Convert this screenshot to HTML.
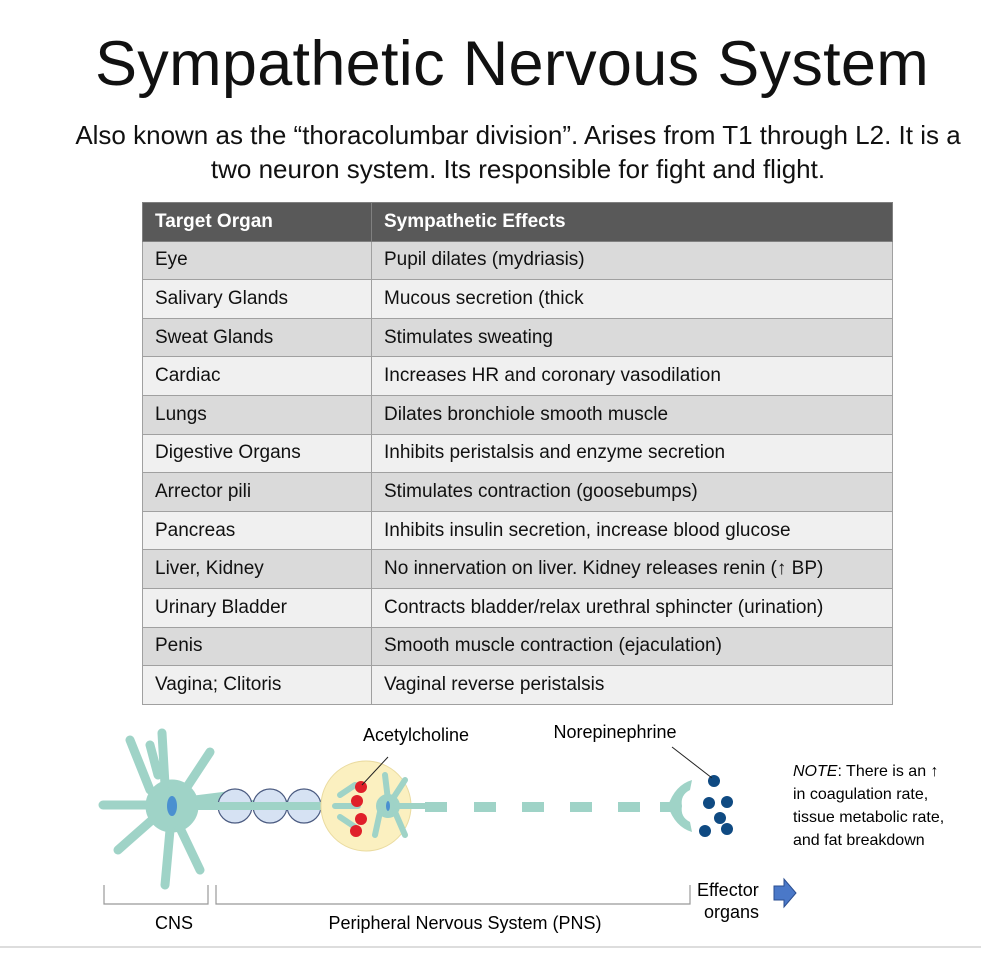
<!DOCTYPE html>
<html><head><meta charset="utf-8"><style>
body{margin:0;width:981px;height:954px;background:#fff;font-family:"Liberation Sans",sans-serif;position:relative;overflow:hidden;color:#111}
h1{position:absolute;top:24px;left:0;width:1024px;text-align:center;margin:0;font-weight:normal;font-size:63px;line-height:80px;letter-spacing:0.3px}
.sub{position:absolute;top:118px;left:0;width:1036px;text-align:center;font-size:26px;line-height:34px}
table{position:absolute;left:142px;top:202px;border-collapse:collapse;width:751px}
td{border:1.5px solid #a0a0a0;height:38.6px;padding:0 0 0 12px;font-size:19px;box-sizing:border-box}
tr.h td{background:#595959;color:#fff;font-weight:bold;border-color:#808080}
tr:nth-child(even) td{background:#dadada}
tr:nth-child(odd):not(.h) td{background:#f0f0f0}
svg{position:absolute;left:0;top:0}
</style></head><body>
<h1>Sympathetic Nervous System</h1>
<div class="sub">Also known as the “thoracolumbar division”. Arises from T1 through L2. It is a<br>two neuron system. Its responsible for fight and flight.</div>
<table>
<tr class="h"><td style="width:229px">Target Organ</td><td>Sympathetic Effects</td></tr>
<tr><td>Eye</td><td>Pupil dilates (mydriasis)</td></tr>
<tr><td>Salivary Glands</td><td>Mucous secretion (thick</td></tr>
<tr><td>Sweat Glands</td><td>Stimulates sweating</td></tr>
<tr><td>Cardiac</td><td>Increases HR and coronary vasodilation</td></tr>
<tr><td>Lungs</td><td>Dilates bronchiole smooth muscle</td></tr>
<tr><td>Digestive Organs</td><td>Inhibits peristalsis and enzyme secretion</td></tr>
<tr><td>Arrector pili</td><td>Stimulates contraction (goosebumps)</td></tr>
<tr><td>Pancreas</td><td>Inhibits insulin secretion, increase blood glucose</td></tr>
<tr><td>Liver, Kidney</td><td>No innervation on liver. Kidney releases renin (↑ BP)</td></tr>
<tr><td>Urinary Bladder</td><td>Contracts bladder/relax urethral sphincter (urination)</td></tr>
<tr><td>Penis</td><td>Smooth muscle contraction (ejaculation)</td></tr>
<tr><td>Vagina; Clitoris</td><td>Vaginal reverse peristalsis</td></tr>
</table>
<svg width="981" height="954" font-family="Liberation Sans, sans-serif">
<line x1="0" y1="947" x2="981" y2="947" stroke="#ddd" stroke-width="2"/>
<g fill="#9fd3c7" stroke="#9fd3c7" stroke-linecap="round">
<circle cx="172" cy="806" r="26"/>
<path d="M150 790 L130 740 M165 785 L162 733 M185 790 L210 752 M195 800 L235 795 M150 805 L103 805 M152 820 L118 850 M170 830 L165 885 M180 828 L200 870 M158 775 L150 745" stroke-width="9" fill="none"/>
<rect x="180" y="800" width="160" height="10" stroke="none"/>
</g>
<ellipse cx="172" cy="806" rx="5" ry="10" fill="#4a90d0"/>
<g fill="#d6e2f3" stroke="#4a5a80" stroke-width="1.2"><circle cx="235" cy="806" r="17"/><circle cx="270" cy="806" r="17"/><circle cx="304" cy="806" r="17"/></g>
<rect x="215" y="802" width="120" height="8" fill="#9fd3c7"/>
<circle cx="366" cy="806" r="45" fill="#fbf0c0" stroke="#eadba0"/>
<g fill="#9fd3c7" stroke="#9fd3c7" stroke-linecap="round" stroke-width="6">
<path d="M335 806 L358 806 M340 795 L355 785 M340 817 L355 827" fill="none"/>
<circle cx="388" cy="806" r="9"/>
<path d="M388 800 L385 775 M392 800 L405 780 M380 812 L375 835 M395 812 L405 835 M396 806 L430 806" fill="none"/>
</g>
<ellipse cx="388" cy="806" rx="2" ry="5" fill="#4a90d0"/>
<g fill="#e0202a"><circle cx="361" cy="787" r="6"/><circle cx="357" cy="801" r="6"/><circle cx="361" cy="819" r="6"/><circle cx="356" cy="831" r="6"/></g>
<line x1="362" y1="785" x2="388" y2="757" stroke="#222" stroke-width="1"/>
<g fill="#9fd3c7"><rect x="425" y="802" width="22" height="10"/><rect x="474" y="802" width="22" height="10"/><rect x="522" y="802" width="22" height="10"/><rect x="570" y="802" width="22" height="10"/><rect x="618" y="802" width="22" height="10"/></g>
<path d="M668 806 Q675 785 692 780 L690 790 Q680 795 682 806 Q680 817 690 822 L692 832 Q675 827 668 806Z" fill="#9fd3c7"/>
<rect x="660" y="802" width="20" height="10" fill="#9fd3c7"/>
<g fill="#0f4a82"><circle cx="714" cy="781" r="6"/><circle cx="709" cy="803" r="6"/><circle cx="727" cy="802" r="6"/><circle cx="720" cy="818" r="6"/><circle cx="705" cy="831" r="6"/><circle cx="727" cy="829" r="6"/></g>
<line x1="672" y1="747" x2="712" y2="778" stroke="#222" stroke-width="1"/>
<text x="416" y="741" font-size="18" text-anchor="middle">Acetylcholine</text>
<text x="615" y="738" font-size="18" text-anchor="middle">Norepinephrine</text>
<g stroke="#999" fill="none" stroke-width="1.2"><path d="M104 885 V904 H208 V885"/><path d="M216 885 V904 H690 V885"/></g>
<text x="174" y="929" font-size="18" text-anchor="middle">CNS</text>
<text x="465" y="929" font-size="18" text-anchor="middle">Peripheral Nervous System (PNS)</text>
<text x="697" y="896" font-size="18">Effector</text>
<text x="704" y="918" font-size="18">organs</text>
<path d="M774 886 H784 V879 L796 893 L784 907 V900 H774Z" fill="#4a78c8" stroke="#2a4e90"/>
<g font-size="16"><text x="793" y="776"><tspan font-style="italic">NOTE</tspan>: There is an ↑</text><text x="793" y="799">in coagulation rate,</text><text x="793" y="822">tissue metabolic rate,</text><text x="793" y="845">and fat breakdown</text></g>
</svg>
</body></html>
